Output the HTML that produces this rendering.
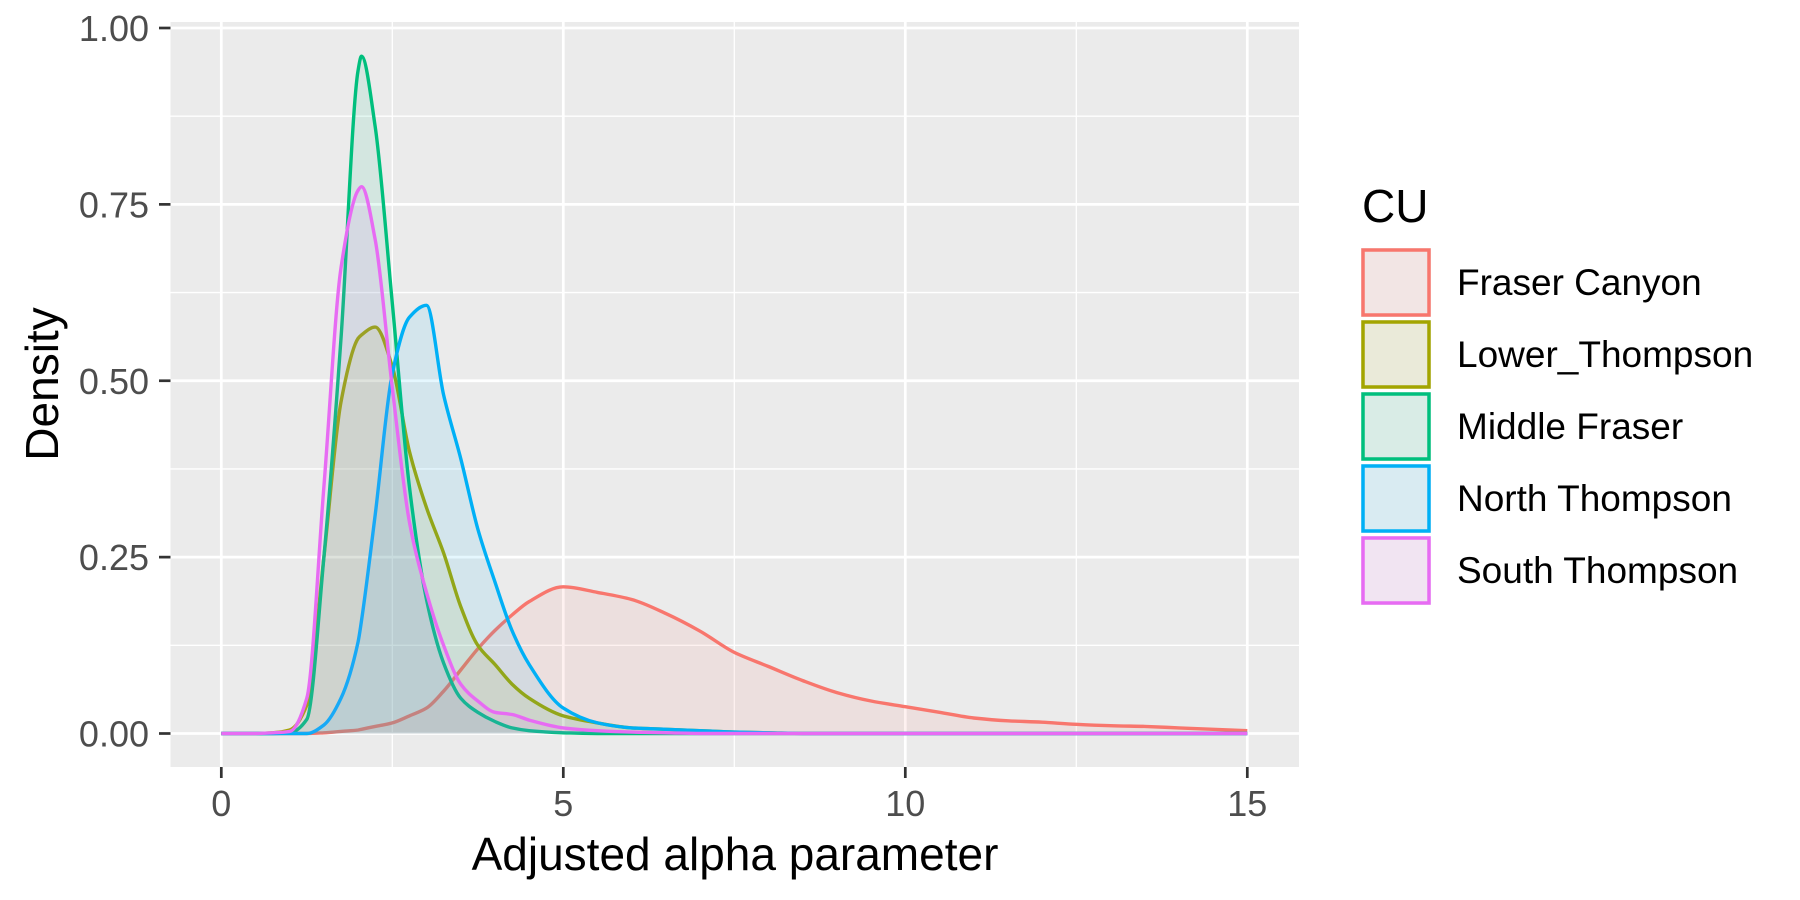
<!DOCTYPE html>
<html><head><meta charset="utf-8">
<style>
html,body{margin:0;padding:0;background:#fff;}
svg{display:block;font-family:"Liberation Sans",Arial,sans-serif;}
</style></head>
<body>
<svg id="chart" width="1800" height="900" viewBox="0 0 1800 900" xmlns="http://www.w3.org/2000/svg">
  <rect x="170.5" y="22" width="1128.5" height="745" fill="#EBEBEB"/>
  <g id="grid"></g>
  <g id="series"></g>
  <g id="axes"></g>
  <text x="735" y="870" font-size="46" text-anchor="middle" fill="#000">Adjusted alpha parameter</text>
  <text transform="translate(58,384) rotate(-90)" font-size="46" text-anchor="middle" fill="#000">Density</text>
  <g id="legend">
    <text x="1362" y="222" font-size="46" fill="#000">CU</text>
  </g>
</svg>
<script>
const xs = [0,0.5,0.75,1,1.25,1.5,1.75,2,2.05,2.25,2.5,2.75,3,3.25,3.5,3.75,4,4.25,4.5,5,5.5,6,6.5,7,7.5,8,8.5,9,9.5,10,10.5,11,11.5,12,12.5,13,13.5,14,14.5,15];
const fraserCanyon = [0,0,0,0,0,0.001,0.003,0.005,0.006,0.01,0.015,0.025,0.036,0.06,0.09,0.12,0.146,0.168,0.187,0.208,0.2,0.19,0.17,0.145,0.115,0.095,0.075,0.058,0.046,0.038,0.03,0.022,0.018,0.016,0.013,0.011,0.01,0.008,0.006,0.004];
const lowerThompson = [0,0,0.001,0.005,0.04,0.25,0.47,0.56,0.565,0.576,0.52,0.40,0.32,0.256,0.18,0.125,0.098,0.07,0.05,0.025,0.015,0.008,0.006,0.004,0.002,0.001,0,0,0,0,0,0,0,0,0,0,0,0,0,0];
const middleFraser = [0,0,0,0.001,0.02,0.25,0.56,0.94,0.96,0.86,0.61,0.35,0.19,0.10,0.05,0.03,0.017,0.008,0.004,0.001,0,0,0,0,0,0,0,0,0,0,0,0,0,0,0,0,0,0,0,0];
const northThompson = [0,0,0,0,0,0.012,0.05,0.13,0.16,0.31,0.51,0.59,0.607,0.48,0.39,0.29,0.215,0.146,0.098,0.036,0.015,0.008,0.006,0.004,0.002,0.001,0,0,0,0,0,0,0,0,0,0,0,0,0,0];
const southThompson = [0,0,0.001,0.003,0.05,0.35,0.66,0.77,0.775,0.70,0.49,0.30,0.20,0.125,0.07,0.046,0.03,0.027,0.019,0.008,0.004,0.002,0.001,0,0,0,0,0,0,0,0,0,0,0,0,0,0,0,0,0];
const seriesNames = ["Fraser Canyon","Lower_Thompson","Middle Fraser","North Thompson","South Thompson"];
const xTicks = [0,5,10,15];
const yTicks = [0,0.25,0.5,0.75,1];
const yTickLabels = ["0.00","0.25","0.50","0.75","1.00"];

const seriesValues = [fraserCanyon,lowerThompson,middleFraser,northThompson,southThompson];
const colors = ["#F8766D","#A3A500","#00BF7D","#00B0F6","#E76BF3"];
const NS = "http://www.w3.org/2000/svg";
const X = v => 221.3 + v*68.4;
const Y = v => 733.5 - v*705.5;
function mk(tag, attrs, parent){const e=document.createElementNS(NS,tag);for(const k in attrs)e.setAttribute(k,attrs[k]);parent.appendChild(e);return e;}
// monotone cubic path through screen points
function monoPath(px,py){
  const n=px.length, d=[], m=new Array(n).fill(0);
  for(let i=0;i<n-1;i++) d.push((py[i+1]-py[i])/(px[i+1]-px[i]));
  m[0]=d[0]; m[n-1]=d[n-2];
  for(let i=1;i<n-1;i++){ if(d[i-1]*d[i]<=0) m[i]=0; else { const w1=2*(px[i+1]-px[i])+(px[i]-px[i-1]), w2=(px[i+1]-px[i])+2*(px[i]-px[i-1]); m[i]=(w1+w2)/(w1/d[i-1]+w2/d[i]); } }
  let s='M'+px[0].toFixed(1)+','+py[0].toFixed(1);
  for(let i=0;i<n-1;i++){const h=(px[i+1]-px[i])/3;
    s+=' C'+(px[i]+h).toFixed(1)+','+(py[i]+m[i]*h).toFixed(1)+' '+(px[i+1]-h).toFixed(1)+','+(py[i+1]-m[i+1]*h).toFixed(1)+' '+px[i+1].toFixed(1)+','+py[i+1].toFixed(1);}
  return s;
}
const grid=document.getElementById('grid'), ser=document.getElementById('series'), axes=document.getElementById('axes'), leg=document.getElementById('legend');

for(let i=0;i<xTicks.length-1;i++){const m=(xTicks[i]+xTicks[i+1])/2;
  const l=mk('line',{x1:X(m),x2:X(m),y1:22,y2:767,stroke:'#fff','stroke-width':1.3},grid);
  
  }
for(let i=0;i<yTicks.length-1;i++){const m=(yTicks[i]+yTicks[i+1])/2;
  const l=mk('line',{x1:170.5,x2:1299,y1:Y(m),y2:Y(m),stroke:'#fff','stroke-width':1.3},grid);
  
  }
xTicks.forEach(t=>{
  const l=mk('line',{x1:X(t),x2:X(t),y1:22,y2:767,stroke:'#fff','stroke-width':2.7},grid);
  
  
  const tk=mk('line',{x1:X(t),x2:X(t),y1:767,y2:778,stroke:'#333','stroke-width':2.7},axes);
  
  
  const tx=mk('text',{x:X(t),y:816,'font-size':36,'text-anchor':'middle',fill:'#4D4D4D'},axes);
  tx.textContent=t;
  
  
});
yTicks.forEach((t,i)=>{
  const l=mk('line',{x1:170.5,x2:1299,y1:Y(t),y2:Y(t),stroke:'#fff','stroke-width':2.7},grid);
  
  
  const tk=mk('line',{x1:159,x2:170.5,y1:Y(t),y2:Y(t),stroke:'#333','stroke-width':2.7},axes);
  
  
  const tx=mk('text',{x:149,y:Y(t)+13,'font-size':36,'text-anchor':'end',fill:'#4D4D4D'},axes);
  tx.textContent=yTickLabels[i];
  
  
});
seriesValues.forEach((vals,s)=>{
  const px=xs.map(X), py=vals.map(Y);
  const curve=monoPath(px,py);
  const area=mk('path',{d:curve+' L'+px[px.length-1]+','+Y(0)+' L'+px[0]+','+Y(0)+' Z',fill:colors[s],'fill-opacity':0.1,stroke:'none'},ser);
  
  
  const line=mk('path',{d:curve,fill:'none',stroke:colors[s],'stroke-width':3.4,'stroke-linejoin':'round'},ser);
  
  
  const ky=248+s*72;
  const bg=mk('rect',{x:1361,y:ky,width:70,height:69,fill:'#F2F2F2'},leg);
  
  
  const key=mk('rect',{x:1363,y:ky+2,width:66,height:65,fill:colors[s],'fill-opacity':0.1,stroke:colors[s],'stroke-width':3.5},leg);
  
  
  const lt=mk('text',{x:1457,y:ky+47,'font-size':37,fill:'#000'},leg);
  lt.textContent=seriesNames[s];
  
  
});
</script>
</body></html>
